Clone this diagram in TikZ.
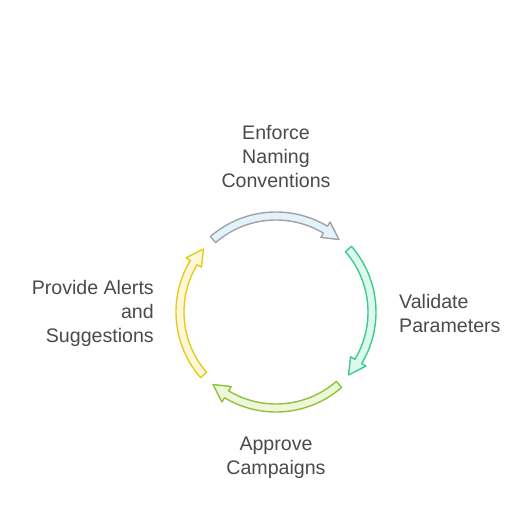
\documentclass[tikz,border=0pt]{standalone}
\usepackage{xcolor}
\usepackage{fontspec}
\setmainfont{Liberation Sans}
\usepackage{tikz}

\definecolor{labelgray}{HTML}{4A4A4A}
\definecolor{enforceline}{HTML}{A0A4A6}
\definecolor{enforcefill}{HTML}{E4F3FB}
\definecolor{validateline}{HTML}{3DCC8E}
\definecolor{validatefill}{HTML}{DDF8EC}
\definecolor{approveline}{HTML}{8CC43E}
\definecolor{approvefill}{HTML}{EEF8D8}
\definecolor{alertline}{HTML}{E5CC1A}
\definecolor{alertfill}{HTML}{FFF8D6}

\begin{document}
\begin{tikzpicture}[x=1pt, y=1pt]
    % Estilos
    \tikzstyle{steplabel}=[text=labelgray, font=\fontsize{19.6}{24}\selectfont, inner sep=0pt]
    \tikzstyle{bentarrow}=[line width=1.4pt, line join=round]
    \useasboundingbox (0,0) rectangle (528,528);
    % Flechas curvas del ciclo (angulo inicial, angulo final, relleno, borde)
    \begin{scope}[shift={(276,216)}]
        \foreach \s/\e/\fc/\lc in {131/49/enforcefill/enforceline,
                                   41/-41/validatefill/validateline,
                                   -49/-131/approvefill/approveline,
                                   -139/-221/alertfill/alertline}{
            \pgfmathsetmacro{\b}{\e+10}
            \filldraw[bentarrow, fill=\fc, draw=\lc]
                (\s:100) arc[start angle=\s, end angle=\b, radius=100]
                -- (\b:105) -- (\e:96) -- (\b:87) -- (\b:92)
                arc[start angle=\b, end angle=\s, radius=92] -- cycle;
        }
    \end{scope}
    % Etiquetas de cada paso
    \node[steplabel, align=center] (enforce) at (276,371) {Enforce\\Naming\\Conventions};
    \node[steplabel, align=left, anchor=west] (validate) at (399,215) {Validate\\Parameters};
    \node[steplabel, align=center] (approve) at (276,70) {Approve\\Campaigns};
    \node[steplabel, align=right, anchor=east] (alerts) at (154,215) {Provide Alerts\\and\\Suggestions};
\end{tikzpicture}
\end{document}
